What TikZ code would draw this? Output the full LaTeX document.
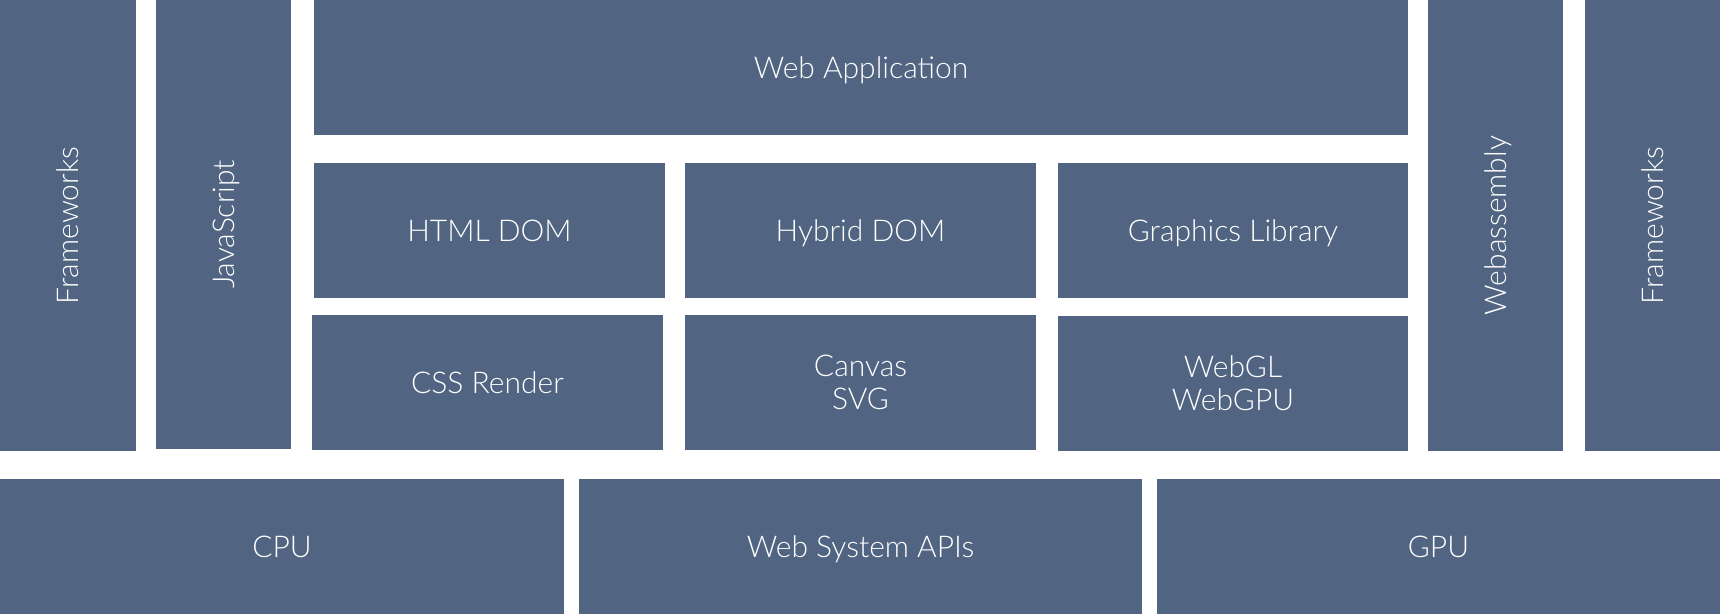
\documentclass[tikz,border=0pt]{standalone}
\usepackage{fontspec}
\setmainfont{Lato Light}
\definecolor{blk}{RGB}{81,101,130}
\begin{document}
\begin{tikzpicture}[x=1pt,y=-1pt,
  box/.style={fill=blk,draw=none,inner sep=0pt,text=white,align=center,
    font=\fontsize{30}{33}\selectfont,text height=21.5pt,text depth=0pt},
  twoline/.style={text height=54.5pt,text depth=0pt},
  vbox/.style={box,rotate=90}]
\useasboundingbox (0,0) rectangle (1720,614);
\node[box,minimum width=1094pt,minimum height=135pt] (webapp) at (861,67.5) {Web Application};
\node[box,minimum width=351pt,minimum height=135pt] (html) at (489.5,230.5) {HTML DOM};
\node[box,minimum width=351pt,minimum height=135pt] (hybrid) at (860.5,230.5) {Hybrid DOM};
\node[box,minimum width=350pt,minimum height=135pt] (graphics) at (1233,230.5) {Graphics Library};
\node[box,minimum width=351pt,minimum height=135pt] (css) at (487.5,382.5) {CSS Render};
\node[box,twoline,minimum width=351pt,minimum height=135pt] (canvas) at (860.5,382.5) {Canvas\\SVG};
\node[box,twoline,minimum width=350pt,minimum height=135pt] (webgl) at (1233,383.5) {WebGL\\WebGPU};
\node[vbox,minimum width=451pt,minimum height=136pt] (fwl) at (68,225.5) {Frameworks};
\node[vbox,minimum width=449pt,minimum height=135pt] (js) at (223.5,224.5) {JavaScript};
\node[vbox,minimum width=451pt,minimum height=135pt] (wasm) at (1495.5,225.5) {Webassembly};
\node[vbox,minimum width=451pt,minimum height=135pt] (fwr) at (1652.5,225.5) {Frameworks};
\node[box,minimum width=564pt,minimum height=135.5pt] (cpu) at (282,546.25) {CPU};
\node[box,minimum width=563pt,minimum height=135.5pt] (api) at (860.5,546.25) {Web System APIs};
\node[box,minimum width=563pt,minimum height=135.5pt] (gpu) at (1438.5,546.25) {GPU};
\end{tikzpicture}
\end{document}
